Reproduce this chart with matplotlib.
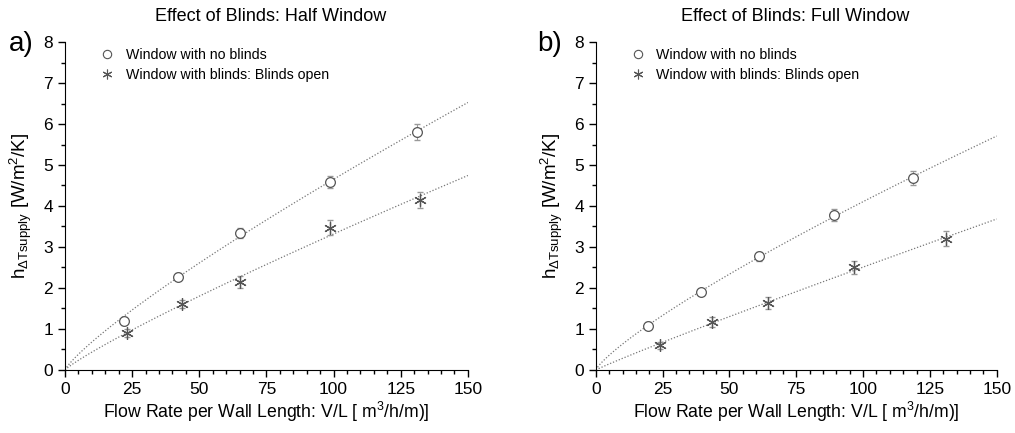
#!/usr/bin/env python3

import numpy as np
import matplotlib as mpl
import matplotlib.pyplot as plt

# flow rate per wall length [m3/h/m] and heat transfer coefficient [W/m2/K]
half_open_x = [22, 42, 65, 98.5, 131]
half_open_y = [1.2, 2.28, 3.35, 4.58, 5.8]
half_open_err = [0.1, 0.08, 0.12, 0.15, 0.2]
half_blind_x = [23, 43.5, 65, 98.5, 132]
half_blind_y = [0.9, 1.6, 2.15, 3.47, 4.15]
half_blind_err = [0.1, 0.1, 0.15, 0.18, 0.2]

full_open_x = [19.5, 39.5, 61, 89, 118.5]
full_open_y = [1.08, 1.9, 2.77, 3.78, 4.68]
full_open_err = [0.08, 0.07, 0.1, 0.15, 0.18]
full_blind_x = [24, 43.5, 64.5, 96.5, 131]
full_blind_y = [0.6, 1.17, 1.63, 2.5, 3.2]
full_blind_err = [0.08, 0.12, 0.15, 0.15, 0.18]

titles = ['Effect of Blinds: Half Window', 'Effect of Blinds: Full Window']
panel_labels = ['a)', 'b)']
legend_labels = ['Window with no blinds', 'Window with blinds: Blinds open']

GRAY = '#555555'
STAR = (6, 2, 0)


def power_fit(x, y):
    """
    Least squares fit of h = a * x^b (grid search on b, closed form a)
    """
    x = np.asarray(x, float)
    y = np.asarray(y, float)
    best = None
    for b in np.linspace(0.3, 1.5, 1201):
        p = x ** b
        a = np.sum(p * y) / np.sum(p * p)
        err = np.sum((a * p - y) ** 2)
        if best is None or err < best[0]:
            best = (err, a, b)
    return best[1], best[2]


def plot(ax, open_x, open_y, open_err, blind_x, blind_y, blind_err):
    """
    Plot a subplot tile
    """
    xs = np.linspace(0.01, 150, 300)
    for x, y in ((open_x, open_y), (blind_x, blind_y)):
        a, b = power_fit(x, y)
        ax.plot(xs, a * xs ** b, ls=(0, (1, 1.5)), lw=0.9, color='#777777')

    for x, y, e in ((open_x, open_y, open_err), (blind_x, blind_y, blind_err)):
        ax.errorbar(x, y, yerr=e, fmt='none', ecolor='#999999',
                    elinewidth=0.8, capsize=2, zorder=2)
    ax.plot(open_x, open_y, ls='none', marker='o', mfc='white', mec=GRAY,
            ms=7, mew=0.9, zorder=3)
    ax.plot(blind_x, blind_y, ls='none', marker=STAR, color=GRAY,
            ms=9, mew=0.9, zorder=3)

    # legend handles with smaller markers
    h1, = ax.plot([], [], ls='none', marker='o', mfc='white', mec=GRAY,
                  ms=6, mew=0.8)
    h2, = ax.plot([], [], ls='none', marker=STAR, color=GRAY, ms=7, mew=0.8)
    ax.legend([h1, h2], legend_labels, loc='upper left',
              bbox_to_anchor=(0.052, 1.02), frameon=False, fontsize=10.2,
              handletextpad=0.7, labelspacing=0.4, handlelength=1.2)

    ax.set_xlim(0, 150)
    ax.set_ylim(0, 8)
    ax.set_xticks(np.arange(0, 151, 25))
    ax.set_xticks(np.arange(0, 151, 5), minor=True)
    ax.set_yticks(np.arange(0, 9, 1))
    ax.set_yticks(np.arange(0, 8.1, 0.5), minor=True)
    ax.spines['top'].set_visible(False)
    ax.spines['right'].set_visible(False)
    ax.tick_params(which='major', length=5, width=1, labelsize=12.5,
                   direction='out')
    ax.tick_params(which='minor', length=3, width=1, direction='out')
    ax.set_xlabel('Flow Rate per Wall Length: V/L [ m$^3$/h/m)]',
                  fontsize=12.7)
    ax.xaxis.set_label_coords(0.5, -0.09)
    ax.set_ylabel(r'h$_{\mathregular{\Delta Tsupply}}$ [W/m$^2$/K]',
                  fontsize=13.5, labelpad=7)


mpl.rcParams['font.family'] = ['Liberation Sans', 'DejaVu Sans']
mpl.rcParams['mathtext.fontset'] = 'custom'
mpl.rcParams['mathtext.rm'] = 'Liberation Sans'
mpl.rcParams['mathtext.default'] = 'regular'

fig = plt.figure(figsize=(10.15, 4.33), dpi=100)
ax1 = fig.add_axes([0.064, 0.1455, 0.397, 0.7575])
ax2 = fig.add_axes([0.587, 0.1455, 0.395, 0.7575])

plot(ax1, half_open_x, half_open_y, half_open_err,
     half_blind_x, half_blind_y, half_blind_err)
plot(ax2, full_open_x, full_open_y, full_open_err,
     full_blind_x, full_blind_y, full_blind_err)

fig.text(0.267, 0.962, titles[0], ha='center', va='center', fontsize=13)
fig.text(0.783, 0.962, titles[1], ha='center', va='center', fontsize=13)
fig.text(0.009, 0.898, panel_labels[0], ha='left', va='center', fontsize=20)
fig.text(0.529, 0.898, panel_labels[1], ha='left', va='center', fontsize=20)

plt.savefig('out.png', dpi=100)
